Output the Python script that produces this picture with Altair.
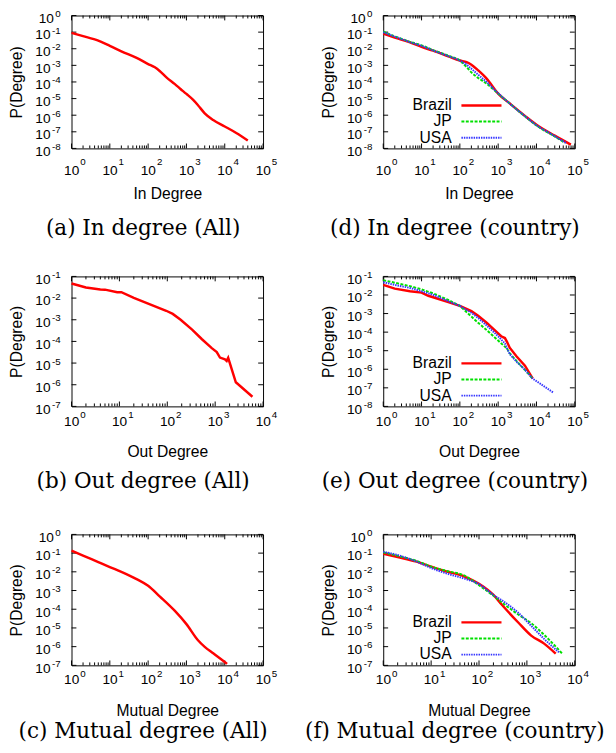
import altair as alt
import pandas as pd

# ---------------- data ----------------
# (a) In degree (All)
a_x = [1, 2, 5, 10, 20, 50, 100, 150, 200, 300, 500, 700, 1000, 1500, 2000, 3000, 5000, 10000, 20000, 40000]
a_p = [9.1e-2, 5.8e-2, 3.1e-2, 1.5e-2, 7.0e-3, 2.8e-3, 1.2e-3, 7.6e-4, 4.6e-4, 1.9e-4, 7.4e-5, 3.8e-5,
       1.9e-5, 8.3e-6, 4.0e-6, 1.3e-6, 5.1e-7, 2.1e-7, 8.5e-8, 3.0e-8]

# (d) In degree (country)
d_br_x = [1, 2, 5, 10, 20, 50, 100, 150, 200, 300, 500, 1000, 2000, 5000, 10000, 30000, 79000]
d_br_p = [8.1e-2, 4.7e-2, 2.4e-2, 1.3e-2, 7.6e-3, 3.5e-3, 1.95e-3, 1.55e-3, 1.1e-3, 5.0e-4, 1.6e-4, 2.0e-5,
          5.1e-6, 9.1e-7, 2.7e-7, 5.9e-8, 1.7e-8]
d_jp_x = [1, 2, 5, 10, 20, 50, 100, 150, 200, 300, 500, 1000, 2000, 5000, 10000, 30000, 55000]
d_jp_p = [1.07e-1, 5.6e-2, 2.6e-2, 1.6e-2, 8.3e-3, 3.8e-3, 1.95e-3, 7.9e-4, 3.8e-4, 1.74e-4, 7.9e-5, 2.0e-5,
          5.0e-6, 8.5e-7, 2.4e-7, 5.2e-8, 2.2e-8]
d_us_x = [1, 2, 5, 10, 20, 50, 100, 150, 200, 300, 500, 1000, 2000, 5000, 10000, 30000, 60000]
d_us_p = [9.8e-2, 5.4e-2, 2.5e-2, 1.5e-2, 7.9e-3, 3.6e-3, 1.95e-3, 1.1e-3, 6.3e-4, 2.75e-4, 1.0e-4, 2.1e-5,
          5.0e-6, 8.7e-7, 2.5e-7, 5.5e-8, 2.1e-8]

# (b) Out degree (All)
b_x = [1, 2, 4, 5, 9, 11, 20, 95, 130, 190, 330, 530, 850, 1080, 1260, 1600, 1740, 1870, 2700, 6000]
b_p = [4.7e-2, 3.1e-2, 2.5e-2, 2.45e-2, 1.86e-2, 1.86e-2, 1.02e-2, 2.6e-3, 1.86e-3, 1.0e-3, 3.5e-4, 1.26e-4,
       4.9e-5, 3.2e-5, 1.8e-5, 1.5e-5, 1.26e-5, 1.74e-5, 1.3e-6, 2.8e-7]

# (e) Out degree (country)
e_br_x = [1, 2, 5, 10, 15, 20, 50, 100, 200, 300, 500, 1000, 1200, 1500, 1700, 2000, 3000, 5000, 8000]
e_br_p = [3.5e-2, 2.2e-2, 1.6e-2, 1.35e-2, 9.1e-3, 7.6e-3, 4.1e-3, 2.6e-3, 1.35e-3, 7.6e-4, 3.2e-4, 8.5e-5,
          6.0e-5, 4.8e-5, 3.0e-5, 1.45e-5, 5.0e-6, 1.55e-6, 3.1e-7]
e_jp_x = [1, 2, 5, 10, 20, 50, 100, 200, 300, 500, 1000, 1700, 2000, 3000, 5000, 8000]
e_jp_p = [6.2e-2, 4.6e-2, 3.0e-2, 2.0e-2, 1.23e-2, 5.4e-3, 2.6e-3, 6.9e-4, 3.2e-4, 1.3e-4, 3.5e-5, 1.3e-5,
          7.4e-6, 2.8e-6, 9.3e-7, 3.1e-7]
e_us_x = [1, 2, 5, 10, 20, 50, 100, 200, 300, 500, 1000, 1500, 1700, 2000, 3000, 5000, 8000, 15000, 28000]
e_us_p = [4.9e-2, 3.5e-2, 2.4e-2, 1.6e-2, 1.02e-2, 4.6e-3, 2.6e-3, 1.1e-3, 5.8e-4, 2.3e-4, 6.0e-5, 2.45e-5,
          1.35e-5, 6.6e-6, 2.6e-6, 9.3e-7, 3.1e-7, 1.3e-7, 5.4e-8]

# (c) Mutual degree (All)
c_x = [1, 2, 5, 10, 20, 50, 100, 200, 500, 1000, 2000, 3000, 5000, 10000, 11500]
c_p = [1.35e-1, 7.4e-2, 3.3e-2, 1.8e-2, 1.0e-2, 4.1e-3, 1.8e-3, 4.9e-4, 8.1e-5, 1.6e-5, 2.2e-6, 9.8e-7,
       4.4e-7, 1.5e-7, 1.2e-7]

# (f) Mutual degree (country)
f_br_x = [1, 2, 5, 10, 20, 50, 100, 200, 300, 660, 1230, 2290, 4000]
f_br_p = [9.3e-2, 6.2e-2, 3.5e-2, 1.9e-2, 1.07e-2, 5.6e-3, 2.3e-3, 5.8e-4, 1.74e-4, 1.95e-5, 3.9e-6, 1.45e-6, 4.2e-7]
f_jp_x = [1, 2, 5, 10, 20, 50, 100, 190, 300, 660, 1230, 2290, 5400]
f_jp_p = [1.1e-1, 7.2e-2, 3.8e-2, 1.9e-2, 1.15e-2, 6.2e-3, 1.9e-3, 5.8e-4, 2.3e-4, 5.2e-5, 1.8e-5, 4.3e-6, 4.4e-7]
f_us_x = [1, 2, 5, 10, 20, 50, 100, 200, 300, 660, 1230, 2290, 4700]
f_us_p = [1.17e-1, 7.9e-2, 3.5e-2, 1.6e-2, 8.5e-3, 4.3e-3, 2.2e-3, 5.8e-4, 3.0e-4, 6.5e-5, 1.3e-5, 2.6e-6, 4.9e-7]

countries = ["Brazil", "JP", "USA"]
captions = ["(a) In degree (All)", "(d) In degree (country)",
            "(b) Out degree (All)", "(e) Out degree (country)",
            "(c) Mutual degree (All)", "(f) Mutual degree (country)"]
x_titles = ["In Degree", "In Degree", "Out Degree", "Out Degree", "Mutual Degree", "Mutual Degree"]
y_title = "P(Degree)"

# tick label exponents (labels read 10^k)
x_exps = [[0, 1, 2, 3, 4, 5], [0, 1, 2, 3, 4, 5], [0, 1, 2, 3, 4],
          [0, 1, 2, 3, 4, 5], [0, 1, 2, 3, 4, 5], [0, 1, 2, 3, 4]]
y_exps = [[0, -1, -2, -3, -4, -5, -6, -7, -8], [0, -1, -2, -3, -4, -5, -6, -7, -8],
          [-1, -2, -3, -4, -5, -6, -7], [-1, -2, -3, -4, -5, -6, -7, -8],
          [0, -1, -2, -3, -4, -5, -6, -7], [0, -1, -2, -3, -4, -5, -6, -7]]
interp = ["monotone", "monotone", "linear", "linear", "monotone", "monotone"]

# ---------------- styling ----------------
SANS = "Liberation Sans"
SERIF = "DejaVu Serif"
STYLES = {
    "Brazil": dict(color="#ff0000", strokeWidth=2.5),
    "JP": dict(color="#00e000", strokeWidth=2, strokeDash=[3, 1.5]),
    "USA": dict(color="#3535ff", strokeWidth=2, strokeDash=[1.5, 1]),
}
BASE_FS = 14
EXP_FS = 10
caption_offsets = [18, 18, 12, 12, 3, 3]
ten_base = [27, 27, 20, 20, 19, 19]     # baseline of "10" below the frame
exp_base = [17, 17, 12, 12, 12, 12]     # baseline of the exponent below the frame


def panel(series, xe, ye, w, h, xtitle, caption, legend, interpolate, cap_off, tb, eb):
    xs = alt.Scale(type="log", domain=[10.0 ** min(xe), 10.0 ** max(xe)], nice=False)
    ys = alt.Scale(type="log", domain=[10.0 ** min(ye), 10.0 ** max(ye)], nice=False)
    xaxis = alt.Axis(title=xtitle, labels=False, ticks=False, domain=False, grid=False,
                     titleFont=SANS, titleFontSize=16, titleFontWeight="normal",
                     titleColor="black", titlePadding=38)
    yaxis = alt.Axis(title=y_title, labels=False, ticks=False, domain=False, grid=False,
                     titleFont=SANS, titleFontSize=16, titleFontWeight="normal",
                     titleColor="black", titlePadding=48)
    X = alt.X("x:Q", scale=xs, axis=xaxis)
    Y = alt.Y("y:Q", scale=ys, axis=yaxis)

    layers = []
    # inner tick marks on all four sides
    xmaj = [10.0 ** k for k in xe]
    xmin = [j * 10.0 ** k for k in xe[:-1] for j in range(2, 10)]
    ymaj = [10.0 ** k for k in ye]
    for vals, L in ((xmaj, 5), (xmin, 3)):
        df = pd.DataFrame({"x": vals})
        for y0, y1 in ((h, h - L), (0, L)):
            layers.append(alt.Chart(df).mark_rule(color="black", strokeWidth=1).encode(
                x=X, y=alt.value(y0), y2=alt.value(y1)))
    dfy = pd.DataFrame({"y": ymaj})
    for x0, x1 in ((0, 5), (w, w - 5)):
        layers.append(alt.Chart(dfy).mark_rule(color="black", strokeWidth=1).encode(
            y=Y, x=alt.value(x0), x2=alt.value(x1)))

    # tick labels: "10" with a raised exponent
    dfx = pd.DataFrame({"x": xmaj, "e": [str(k) for k in xe]})
    layers.append(alt.Chart(dfx).mark_text(align="right", baseline="alphabetic", dx=8,
                                           font=SANS, fontSize=BASE_FS, color="black").encode(
        x=X, y=alt.value(h + tb), text=alt.value("10")))
    layers.append(alt.Chart(dfx).mark_text(align="left", baseline="alphabetic", dx=9,
                                           font=SANS, fontSize=EXP_FS, color="black").encode(
        x=X, y=alt.value(h + eb), text="e:N"))
    dfy_l = pd.DataFrame({"y": ymaj, "e": [str(k) for k in ye]})
    neg = dfy_l[[k < 0 for k in ye]]
    zero = dfy_l[[k == 0 for k in ye]]
    layers.append(alt.Chart(dfy_l).mark_text(align="right", baseline="alphabetic", dy=1.5,
                                             font=SANS, fontSize=EXP_FS, color="black").encode(
        y=Y, x=alt.value(-11), text="e:N"))
    for sub, xr in ((neg, -21.5), (zero, -18)):
        if len(sub):
            layers.append(alt.Chart(sub).mark_text(align="right", baseline="alphabetic", dy=7.5,
                                                   font=SANS, fontSize=BASE_FS, color="black").encode(
                y=Y, x=alt.value(xr), text=alt.value("10")))

    for name, xv, pv in series:
        df = pd.DataFrame({"x": xv, "y": pv})
        layers.append(alt.Chart(df).mark_line(interpolate=interpolate, **STYLES[name]).encode(x=X, y=Y))

    if legend:
        for i, name in enumerate(countries):
            yy = h - 44 + 16.5 * i
            layers.append(alt.Chart(pd.DataFrame({"t": [name]})).mark_text(
                align="right", baseline="middle", font=SANS, fontSize=16, color="black").encode(
                text="t:N", x=alt.value(70), y=alt.value(yy)))
            layers.append(alt.Chart(pd.DataFrame({"t": [name]})).mark_rule(**STYLES[name]).encode(
                x=alt.value(80), x2=alt.value(121), y=alt.value(yy)))

    return alt.layer(*layers).properties(
        width=w, height=h,
        title=alt.TitleParams(text=caption, orient="bottom", anchor="middle", frame="bounds",
                              font=SERIF, fontSize=22, fontWeight="normal", color="black",
                              offset=cap_off))


heights = [136, 136, 133, 133, 134, 134]
widths = [196, 196, 196, 196, 196, 196]
series_list = [
    [("Brazil", a_x, a_p)],
    [("Brazil", d_br_x, d_br_p), ("JP", d_jp_x, d_jp_p), ("USA", d_us_x, d_us_p)],
    [("Brazil", b_x, b_p)],
    [("Brazil", e_br_x, e_br_p), ("JP", e_jp_x, e_jp_p), ("USA", e_us_x, e_us_p)],
    [("Brazil", c_x, c_p)],
    [("Brazil", f_br_x, f_br_p), ("JP", f_jp_x, f_jp_p), ("USA", f_us_x, f_us_p)],
]

panels = [panel(series_list[i], x_exps[i], y_exps[i], widths[i], heights[i], x_titles[i], captions[i],
                legend=(i % 2 == 1), interpolate=interp[i], cap_off=caption_offsets[i],
                tb=ten_base[i], eb=exp_base[i]) for i in range(6)]

chart = alt.concat(*panels, columns=2, spacing={"row": 131, "column": 123}, bounds="flush",
                   align="each", padding={"left": 0, "top": -8, "right": 2, "bottom": 2}
                   ).configure_view(stroke="black", strokeWidth=1)

chart.save("out.html", embed_options={"renderer": "svg", "actions": False})
